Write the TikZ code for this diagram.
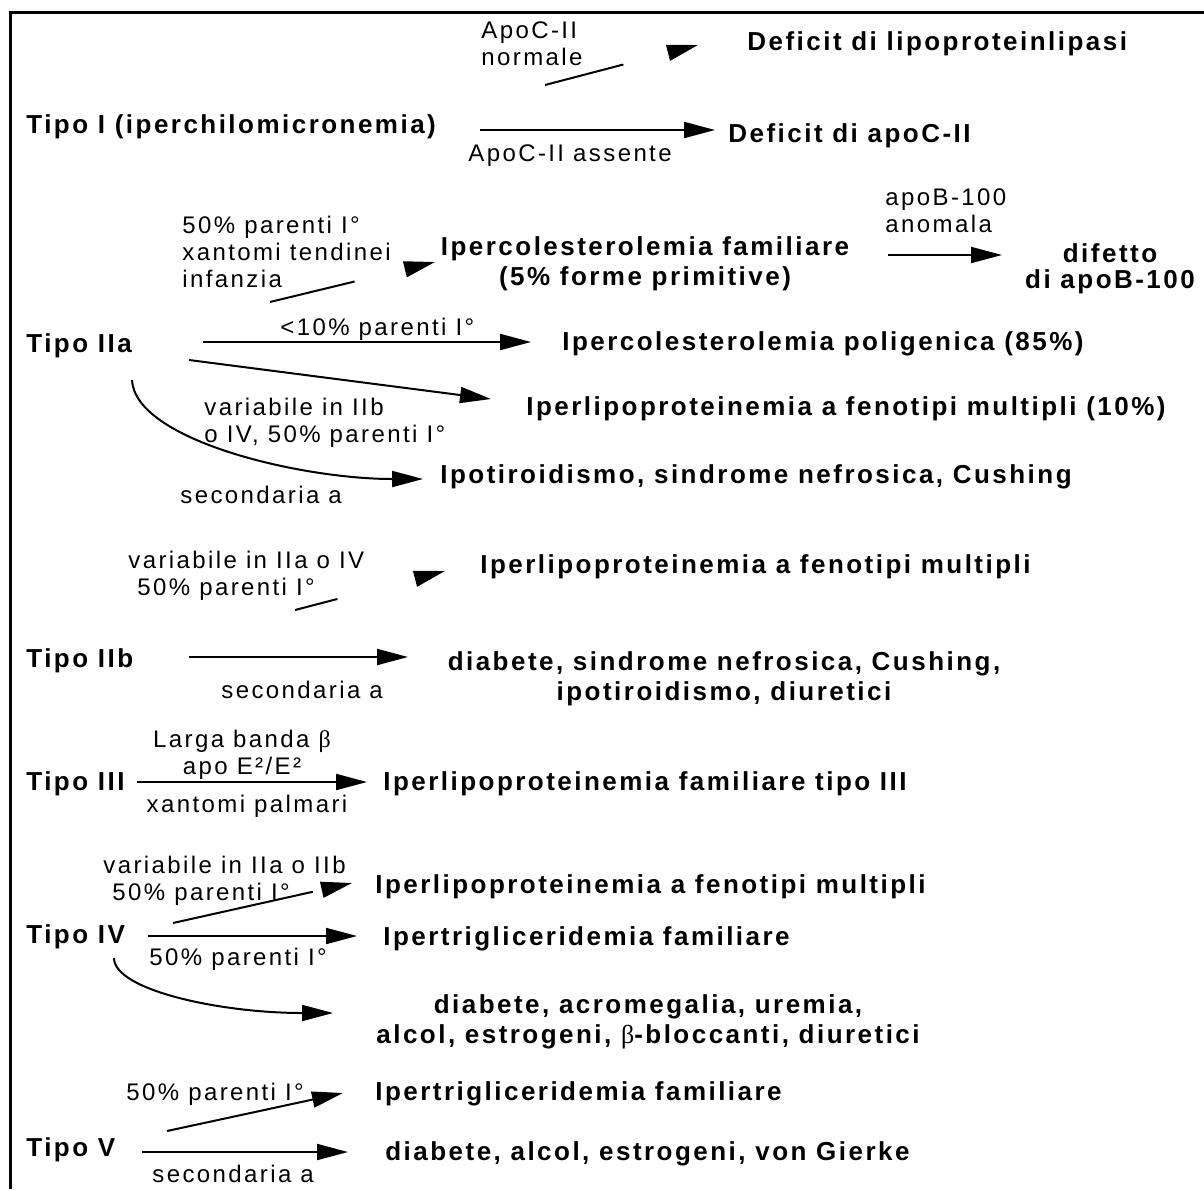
\documentclass[tikz,border=0pt]{standalone}
\usepackage{fontspec}
\setmainfont{Liberation Sans}
\newfontfamily\bsf{Liberation Sans}[LetterSpace=9.5]
\newfontfamily\rsf{Liberation Sans}[LetterSpace=10]
\newfontfamily\grf{Liberation Serif}
\usetikzlibrary{arrows.meta,calc}
\newcommand{\twoc}[2]{\begin{tabular}[t]{@{}c@{}}#1\\#2\end{tabular}}
\newcommand{\twol}[2]{\begin{tabular}[t]{@{}l@{}}#1\\#2\end{tabular}}
\begin{document}
\begin{tikzpicture}[x=0.5pt,y=-0.5pt,
  bt/.style={font=\bsf\bfseries\fontsize{13}{15}\selectfont, inner sep=0pt, anchor=base west},
  rt/.style={font=\rsf\fontsize{12}{13.5}\selectfont, inner sep=0pt, anchor=base west},
  arr/.style={line width=1pt, -{Triangle[length=15.5pt,width=8pt]}}]
\useasboundingbox (0,0) rectangle (1204,1189);
\draw[line width=1.5pt] (10,1189) -- (10,12) -- (1204,12);

% main (bold) nodes
\node[bt] (dlpl) at (747,50) {Deficit di lipoproteinlipasi};
\node[bt] (tI) at (26,133) {Tipo I (iperchilomicronemia)};
\node[bt] (dapoc) at (728,142) {Deficit di apoC-II};
\node[bt,anchor=base] (ifam) at (645,255) {\twoc{Ipercolesterolemia familiare}{(5\% forme primitive)}};
\node[bt,anchor=base,font=\bsf\bfseries\fontsize{13}{13}\selectfont] (dif) at (1110,262) {\twoc{difetto}{di apoB-100}};
\node[bt] (tIIa) at (26,352) {Tipo IIa};
\node[bt] (ipoli) at (562,350) {Ipercolesterolemia poligenica (85\%)};
\node[bt] (ifen10) at (526,415) {Iperlipoproteinemia a fenotipi multipli (10\%)};
\node[bt] (ipot) at (440,483) {Ipotiroidismo, sindrome nefrosica, Cushing};
\node[bt] (ifenb) at (480,573) {Iperlipoproteinemia a fenotipi multipli};
\node[bt] (tIIb) at (26,667) {Tipo IIb};
\node[bt,anchor=base] (diab1) at (724,670) {\twoc{diabete, sindrome nefrosica, Cushing,}{ipotiroidismo, diuretici}};
\node[bt] (tIII) at (26,790) {Tipo III};
\node[bt] (ifIII) at (383,790) {Iperlipoproteinemia familiare tipo III};
\node[bt] (ifenIV) at (375,893) {Iperlipoproteinemia a fenotipi multipli};
\node[bt] (tIV) at (26,943) {Tipo IV};
\node[bt] (itrIV) at (383,945) {Ipertrigliceridemia familiare};
\node[bt,anchor=base] (diab2) at (648,1013) {\twoc{diabete, acromegalia, uremia,}{alcol, estrogeni, {\grf\mdseries β}-bloccanti, diuretici}};
\node[bt] (itrV) at (375,1100) {Ipertrigliceridemia familiare};
\node[bt] (tV) at (26,1156) {Tipo V};
\node[bt] (diabV) at (385,1160) {diabete, alcol, estrogeni, von Gierke};

% labels
\node[rt] (lApoN) at (481,38) {\twol{ApoC-II}{normale}};
\node[rt] (lApoA) at (468,161) {ApoC-II assente};
\node[rt] (l50a) at (182,233) {\begin{tabular}[t]{@{}l@{}}50\% parenti I°\\xantomi tendinei\\infanzia\end{tabular}};
\node[rt] (lApoB) at (885,205) {\twol{apoB-100}{anomala}};
\node[rt] (l10) at (280,335) {<10\% parenti I°};
\node[rt] (lVarB) at (204,415) {\twol{variabile in IIb}{o IV, 50\% parenti I°}};
\node[rt] (lSecA) at (180,503) {secondaria a};
\node[rt] (lVarIV) at (128,568) {\twol{variabile in IIa o IV}{\hspace*{4.5pt}50\% parenti I°}};
\node[rt] (lSecB) at (221,698) {secondaria a};
\node[rt,anchor=base] (lLarga) at (242,747) {\twoc{Larga banda {\grf β}}{apo E²/E²}};
\node[rt,anchor=base] (lXant) at (247,812) {xantomi palmari};
\node[rt] (lVarIIb) at (103,873) {\twol{variabile in IIa o IIb}{\hspace*{4.5pt}50\% parenti I°}};
\node[rt] (l50IV) at (149,965) {50\% parenti I°};
\node[rt] (l50V) at (126,1100) {50\% parenti I°};
\node[rt] (lSecV) at (152,1182) {secondaria a};

% connectors
\draw[arr,dash pattern=on 40.5pt off 200pt] ($(tI.base west)+(519,-48)$) -- ($(dlpl.base west)+(-49,-5)$);
\draw[arr] ($(tI.base west)+(454,-3)$) -- ($(dapoc.base west)+(-13,-12)$);
\draw[arr,dash pattern=on 43.5pt off 200pt] ($(tIIa.base west)+(244,-50)$) -- ($(ifam.base)+(-210,7)$);
\draw[arr] ($(ifam.base)+(243,0)$) -- ($(dif.base)+(-108,-7)$);
\draw[arr] ($(tIIa.base west)+(177,-10)$) -- ($(ipoli.base west)+(-31,-8)$);
\draw[arr] ($(tIIa.base west)+(163,8)$) -- ($(ifen10.base west)+(-35,-16)$);
\draw[arr] ($(tIIa.base west)+(106,28)$) .. controls +(3,60) and +(-123,0) .. ($(ipot.base west)+(-17,-4)$);
\draw[arr,dash pattern=on 21.9pt off 200pt] ($(tIIb.base west)+(269,-57)$) -- ($(ifenb.base west)+(-35,-2)$);
\draw[arr] ($(tIIb.base west)+(163,-10)$) -- ($(diab1.base)+(-316,-13)$);
\draw[arr] ($(tIII.base west)+(111,-8)$) -- ($(ifIII.base west)+(-16,-8)$);
\draw[arr,dash pattern=on 71.6pt off 100pt] ($(tIV.base west)+(147,-20)$) -- ($(ifenIV.base west)+(-23,-10)$);
\draw[arr] ($(tIV.base west)+(122,-7)$) -- ($(itrIV.base west)+(-26,-9)$);
\draw[arr] ($(tIV.base west)+(88,15)$) .. controls +(0,32) and +(-113,0) .. ($(diab2.base)+(-315,0)$);
\draw[arr] ($(tV.base west)+(141,-25)$) -- ($(itrV.base west)+(-32,-7)$);
\draw[arr] ($(tV.base west)+(116,-4)$) -- ($(diabV.base west)+(-37,-8)$);
\end{tikzpicture}
\end{document}
